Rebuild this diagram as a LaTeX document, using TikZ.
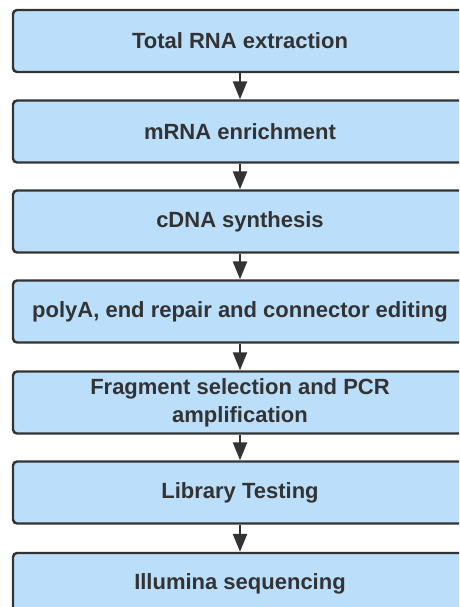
\documentclass[tikz,border=0pt]{standalone}
\usepackage{fontspec}
\setmainfont{Liberation Sans}
\usetikzlibrary{arrows.meta}
\definecolor{boxfill}{HTML}{BBDEFB}
\definecolor{ink}{HTML}{333333}
\tikzset{
  stepbox/.style={rectangle, draw=ink, line width=2.4pt, fill=boxfill, rounded corners=4pt,
    minimum width=454pt, minimum height=62pt, inner sep=0pt, align=center,
    text=ink, font=\fontsize{22}{28}\selectfont\bfseries},
  flow/.style={draw=ink, line width=2.4pt, -{Triangle[length=18pt,width=14pt]}}
}
\begin{document}
\begin{tikzpicture}[x=1pt,y=-1pt]
\useasboundingbox (0,0) rectangle (459,607);
\clip (0,0) rectangle (459,607);
\node[stepbox] (n1) at (240,41) {Total RNA extraction};
\node[stepbox] (n2) at (240,131.5) {mRNA enrichment};
\node[stepbox] (n3) at (240,221.5) {cDNA synthesis};
\node[stepbox] (n4) at (240,311.5) {polyA, end repair and connector editing};
\node[stepbox] (n5) at (240,402.5) {Fragment selection and PCR\\amplification};
\node[stepbox] (n6) at (240,492.5) {Library Testing};
\node[stepbox] (n7) at (240,584) {Illumina sequencing};
\draw[flow] (n1) -- (n2);
\draw[flow] (n2) -- (n3);
\draw[flow] (n3) -- (n4);
\draw[flow] (n4) -- (n5);
\draw[flow] (n5) -- (n6);
\draw[flow] (n6) -- (n7);
\end{tikzpicture}
\end{document}
